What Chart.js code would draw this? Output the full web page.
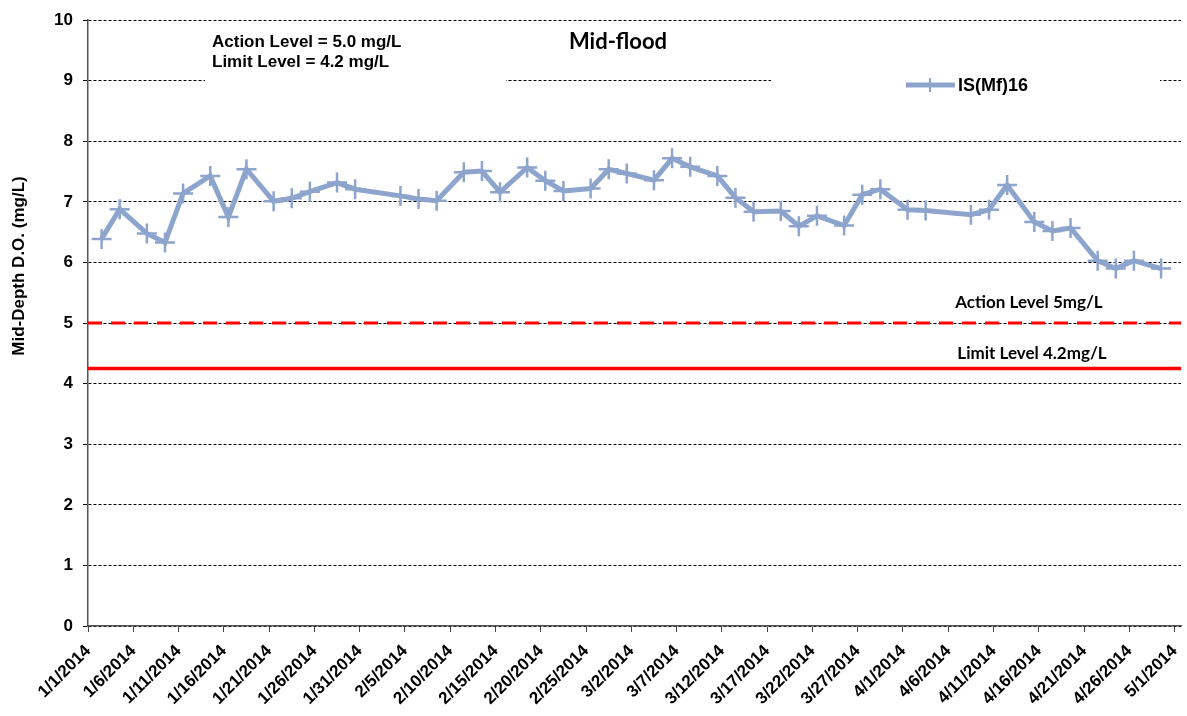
<!DOCTYPE html>
<html>
<head>
<meta charset="utf-8">
<script src="https://cdn.jsdelivr.net/npm/chart.js@4/dist/chart.umd.min.js"></script>
<style>
  body { margin: 0; background: #fff; }
  #wrap { width: 1187px; height: 716px; }
</style>
</head>
<body>
<div id="wrap"><canvas id="chart" width="1187" height="716"></canvas></div>
<script>
// x axis tick labels (every 5 days)
const xTickLabels = ['1/1/2014', '1/6/2014', '1/11/2014', '1/16/2014', '1/21/2014', '1/26/2014',
  '1/31/2014', '2/5/2014', '2/10/2014', '2/15/2014', '2/20/2014', '2/25/2014', '3/2/2014',
  '3/7/2014', '3/12/2014', '3/17/2014', '3/22/2014', '3/27/2014', '4/1/2014', '4/6/2014',
  '4/11/2014', '4/16/2014', '4/21/2014', '4/26/2014', '5/1/2014'];

// sampling dates + mid-depth DO readings for IS(Mf)16
const sampleDates = ['1/2/2014', '1/4/2014', '1/7/2014', '1/9/2014', '1/11/2014', '1/14/2014',
  '1/16/2014', '1/18/2014', '1/21/2014', '1/23/2014', '1/25/2014', '1/28/2014', '1/30/2014',
  '2/4/2014', '2/6/2014', '2/8/2014', '2/11/2014', '2/13/2014', '2/15/2014', '2/18/2014',
  '2/20/2014', '2/22/2014', '2/25/2014', '2/27/2014', '3/1/2014', '3/4/2014', '3/6/2014',
  '3/8/2014', '3/11/2014', '3/13/2014', '3/15/2014', '3/18/2014', '3/20/2014', '3/22/2014',
  '3/25/2014', '3/27/2014', '3/29/2014', '4/1/2014', '4/3/2014', '4/8/2014', '4/10/2014',
  '4/12/2014', '4/15/2014', '4/17/2014', '4/19/2014', '4/22/2014', '4/24/2014', '4/26/2014',
  '4/29/2014'];
const doValues = [6.39, 6.88, 6.48, 6.33, 7.14, 7.43,
  6.75, 7.54, 7.01, 7.06, 7.17, 7.32, 7.21,
  7.10, 7.05, 7.02, 7.49, 7.51, 7.16, 7.57,
  7.35, 7.18, 7.22, 7.54, 7.47, 7.36, 7.72,
  7.58, 7.43, 7.07, 6.84, 6.85, 6.60, 6.77,
  6.61, 7.12, 7.21, 6.87, 6.86, 6.79, 6.87,
  7.28, 6.67, 6.52, 6.57, 6.03, 5.90, 6.03,
  5.90];

const actionLevel = 5.0;
const limitLevel = 4.25;
const seriesName = 'IS(Mf)16';

const ARIAL = "'Liberation Sans', Arial, sans-serif";
const CALIBRI = "Lato, 'Open Sans', sans-serif";
const lineColor = 'rgb(141,164,205)';

function dayOf(s) {
  const p = s.split('/').map(Number);
  return (Date.UTC(p[2], p[0] - 1, p[1]) - Date.UTC(2014, 0, 1)) / 86400000;
}
const tickDays = xTickLabels.map(dayOf);
const xMin = tickDays[0];
const xMax = tickDays[tickDays.length - 1] + 0.7;

// excel places daily points mid-slot
const points = sampleDates.map((d, i) => ({ x: dayOf(d) + 0.5, y: doValues[i] }));

const annotations = {
  id: 'annotations',
  beforeDatasetsDraw(chart) {
    const ctx = chart.ctx;
    ctx.save();
    ctx.fillStyle = '#fff';
    ctx.fillRect(205, 28, 301, 60);   // text box
    ctx.fillRect(771, 60, 389, 42);   // legend box
    ctx.restore();
  },
  afterDraw(chart) {
    const ctx = chart.ctx;
    const y = chart.scales.y;
    ctx.save();
    ctx.fillStyle = '#000';
    ctx.textBaseline = 'middle';

    ctx.textAlign = 'left';
    ctx.font = 'bold 17px ' + ARIAL;
    ctx.fillText('Action Level = 5.0 mg/L', 212, 42);
    ctx.fillText('Limit Level = 4.2 mg/L', 212, 62);

    ctx.textAlign = 'center';
    ctx.font = 'bold 22px ' + CALIBRI;
    ctx.fillText('Mid-flood', 618, 42);

    ctx.font = 'bold 17px ' + CALIBRI;
    ctx.fillText('Action Level 5mg/L', 1029, y.getPixelForValue(actionLevel) - 21);
    ctx.fillText('Limit Level 4.2mg/L', 1032, y.getPixelForValue(limitLevel) - 15);

    // legend
    ctx.strokeStyle = lineColor;
    ctx.lineWidth = 5;
    ctx.beginPath(); ctx.moveTo(906, 85); ctx.lineTo(955, 85); ctx.stroke();
    ctx.lineWidth = 2;
    ctx.beginPath(); ctx.moveTo(930, 78); ctx.lineTo(930, 92); ctx.stroke();
    ctx.textAlign = 'left';
    ctx.font = 'bold 18px ' + ARIAL;
    ctx.fillText(seriesName, 958, 86);

    // y axis title
    ctx.translate(19, 266);
    ctx.rotate(-Math.PI / 2);
    ctx.textAlign = 'center';
    ctx.font = 'bold 17px ' + ARIAL;
    ctx.fillText('Mid-Depth D.O. (mg/L)', 0, 0);
    ctx.restore();
  }
};

new Chart(document.getElementById('chart'), {
  type: 'line',
  data: {
    datasets: [{
      label: seriesName,
      data: points,
      borderColor: lineColor,
      backgroundColor: lineColor,
      borderWidth: 5,
      pointStyle: 'cross',
      pointRadius: 10,
      pointBorderWidth: 2.5,
      pointBorderColor: lineColor,
      tension: 0,
      order: 0
    }, {
      label: 'Action Level',
      data: [{ x: xMin, y: actionLevel }, { x: xMax, y: actionLevel }],
      borderColor: '#ff0000',
      borderWidth: 3,
      borderDash: [14, 9],
      pointRadius: 0,
      order: 1
    }, {
      label: 'Limit Level',
      data: [{ x: xMin, y: limitLevel }, { x: xMax, y: limitLevel }],
      borderColor: '#ff0000',
      borderWidth: 3.5,
      pointRadius: 0,
      order: 2
    }]
  },
  options: {
    responsive: false,
    animation: false,
    layout: { autoPadding: false, padding: { top: 18, right: 6, left: 0, bottom: 0 } },
    plugins: { legend: { display: false }, tooltip: { enabled: false } },
    scales: {
      x: {
        type: 'linear',
        min: xMin,
        max: xMax,
        afterBuildTicks: s => { s.ticks = tickDays.map(v => ({ value: v })); },
        afterFit: s => { s.height = 90; s.paddingRight = 0; s.paddingLeft = 0; },
        ticks: {
          maxRotation: 45,
          minRotation: 45,
          autoSkip: false,
          padding: 9,
          color: '#000',
          font: { family: ARIAL, size: 17, weight: 'bold' },
          callback: v => xTickLabels[tickDays.indexOf(v)]
        },
        grid: { drawOnChartArea: false, drawTicks: true, tickLength: 6, color: '#444' },
        border: { color: '#555', width: 1.5 }
      },
      y: {
        min: 0,
        max: 10,
        afterFit: s => { s.width = 88; },
        ticks: {
          stepSize: 1,
          padding: 10,
          color: '#000',
          font: { family: ARIAL, size: 17, weight: 'bold' }
        },
        grid: { color: '#000', lineWidth: 1, tickLength: 5 },
        border: { color: '#555', width: 1.5, dash: [3, 2] }
      }
    }
  },
  plugins: [annotations]
});
</script>
</body>
</html>
